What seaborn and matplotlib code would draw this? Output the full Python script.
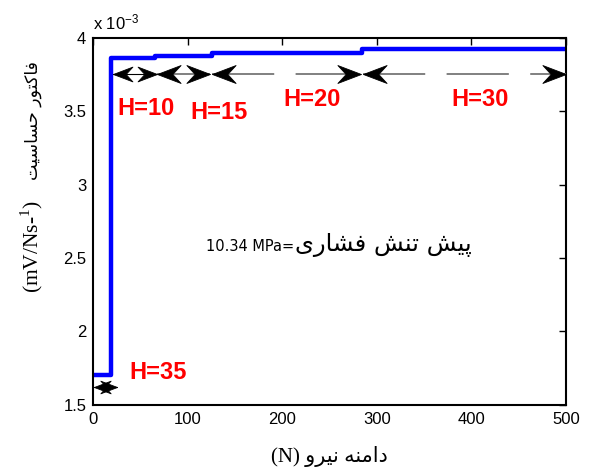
import matplotlib
matplotlib.use("Agg")
import matplotlib.pyplot as plt
import seaborn as sns
import pandas as pd
from matplotlib.path import Path
from matplotlib.ticker import FuncFormatter

# ---------------- data ----------------
force_N = [1, 19, 65, 126, 284, 500]               # x (N)
sensitivity = [1.70, 3.862, 3.878, 3.898, 3.925, 3.925]   # x 10^-3 mV/Ns^-1
h_labels = ["H=35", "H=10", "H=15", "H=20", "H=30"]
h_label_x = [69, 56, 133, 232, 409]
h_label_y = [1.72, 3.52, 3.49, 3.58, 3.58]
arrow_start = [1, 21, 68, 126, 285]
arrow_end = [25, 68, 124, 283, 500]
arrow_y = [1.62, 3.755, 3.755, 3.755, 3.755]
x_ticks = [0, 100, 200, 300, 400, 500]
y_ticks = [1.5, 2, 2.5, 3, 3.5, 4]
xlabel_fa = "دامنه نیرو"
ylabel_fa = "فاکتور حساسیت"
ylabel_unit = r"(mV/Ns-$^{\mathregular{1}}$)"
note_fa = "پیش تنش فشاری"
note_value = "10.34 MPa="

# ------------- minimal Persian shaping (matplotlib has no bidi) -------------
FORMS = {
    "ف": ("\uFED1", "\uFED2", "\uFED3", "\uFED4"),
    "ا": ("\uFE8D", "\uFE8E", None, None),
    "ک": ("\uFB8E", "\uFB8F", "\uFB90", "\uFB91"),
    "ت": ("\uFE95", "\uFE96", "\uFE97", "\uFE98"),
    "و": ("\uFEED", "\uFEEE", None, None),
    "ر": ("\uFEAD", "\uFEAE", None, None),
    "ح": ("\uFEA1", "\uFEA2", "\uFEA3", "\uFEA4"),
    "س": ("\uFEB1", "\uFEB2", "\uFEB3", "\uFEB4"),
    "ی": ("\uFBFC", "\uFBFD", "\uFBFE", "\uFBFF"),
    "د": ("\uFEA9", "\uFEAA", None, None),
    "م": ("\uFEE1", "\uFEE2", "\uFEE3", "\uFEE4"),
    "ن": ("\uFEE5", "\uFEE6", "\uFEE7", "\uFEE8"),
    "ه": ("\uFEE9", "\uFEEA", "\uFEEB", "\uFEEC"),
    "پ": ("\uFB56", "\uFB57", "\uFB58", "\uFB59"),
    "ش": ("\uFEB5", "\uFEB6", "\uFEB7", "\uFEB8"),
}


def dual(c):
    return c in FORMS and FORMS[c][2] is not None


def shape_rtl(s):
    out = []
    for i, c in enumerate(s):
        if c not in FORMS:
            out.append(c)
            continue
        prev = s[i - 1] if i > 0 else ""
        nxt = s[i + 1] if i + 1 < len(s) else ""
        jp = dual(prev)
        jn = dual(c) and nxt in FORMS
        iso, fin, ini, med = FORMS[c]
        if jp and jn:
            out.append(med)
        elif jp:
            out.append(fin)
        elif jn:
            out.append(ini)
        else:
            out.append(iso)
    return "".join(reversed(out))


# stealth-like arrowhead markers (tip at the data point)
CODES = [Path.MOVETO, Path.LINETO, Path.LINETO, Path.LINETO, Path.CLOSEPOLY]
head_r = Path([(0, 0), (-1, 0.38), (-0.65, 0), (-1, -0.38), (0, 0)], CODES)
head_l = Path([(0, 0), (1, 0.38), (0.65, 0), (1, -0.38), (0, 0)], CODES)

# ---------------- figure ----------------
sns.set_theme(style="white")
plt.rcParams["font.family"] = ["Liberation Sans", "DejaVu Sans"]
plt.rcParams["text.color"] = "black"
plt.rcParams["axes.labelcolor"] = "black"

fig = plt.figure(figsize=(5.9, 4.68), dpi=100)
ax = fig.add_axes([0.158, 0.135, 0.801, 0.784])

df = pd.DataFrame({"force": force_N, "sens": sensitivity})
sns.lineplot(data=df, x="force", y="sens", ax=ax, color="#0000FF",
             linewidth=3.2, drawstyle="steps-post")

# double-headed arrows
for i, (x0, x1, y) in enumerate(zip(arrow_start, arrow_end, arrow_y)):
    if i <= 1:
        ax.plot([x0, x1], [y, y], color="black", lw=0.8, zorder=3)
    else:
        ax.plot([x0, x1], [y, y], color="#808080", lw=1.4,
                dashes=(32, 11), zorder=3)
    ms = 24 if i == 0 else (28 if i == 1 else 34)
    for xx, hp in ((x0, head_l), (x1, head_r)):
        ax.plot([xx], [y], marker=hp, markersize=ms, markerfacecolor="black",
                markeredgecolor="black", markeredgewidth=0.6,
                linestyle="none", zorder=4, clip_on=False)

for lab, lx, ly in zip(h_labels, h_label_x, h_label_y):
    ax.text(lx, ly, lab, color="#FF0000", fontsize=17, fontweight="bold",
            ha="center", va="center", family=["Liberation Sans", "DejaVu Sans"])

ax.text(213, 2.545, note_value, fontsize=10.5, ha="right", va="baseline",
        color="black", family=["DejaVu Sans"])
ax.text(214, 2.545, shape_rtl(note_fa), fontsize=17.5, ha="left",
        va="baseline", color="black", family=["DejaVu Sans"])

ax.set_xlim(0, 500)
ax.set_ylim(1.5, 4)
ax.set_xticks(x_ticks)
ax.set_yticks(y_ticks)
ax.yaxis.set_major_formatter(FuncFormatter(lambda v, p: f"{v:g}"))
ax.tick_params(direction="in", length=5, width=1, labelsize=12,
               top=True, right=True, colors="black", pad=5)
for sp in ax.spines.values():
    sp.set_color("black")
    sp.set_linewidth(1.5)
    sp.set_visible(True)

ax.set_xlabel("(N) " + shape_rtl(xlabel_fa), fontsize=15, labelpad=14,
              color="black", family=["Liberation Serif", "DejaVu Sans"])
ax.set_ylabel("")

# y label: unit part (serif) below, Persian part above, reading bottom-to-top
fig.text(32 / 590, 1 - 293 / 468, ylabel_unit, rotation=90, ha="center",
         va="bottom", fontsize=15.5, color="black", family=["Liberation Serif"])
fig.text(33 / 590, 1 - 180 / 468, shape_rtl(ylabel_fa), rotation=90,
         ha="center", va="bottom", fontsize=12.5, color="black",
         family=["DejaVu Sans"])

ax.text(0.0, 1.015, r"x $\mathregular{10^{-3}}$", transform=ax.transAxes,
        fontsize=12, ha="left", va="bottom", color="black")

fig.savefig("out.png", dpi=100, facecolor="white")
